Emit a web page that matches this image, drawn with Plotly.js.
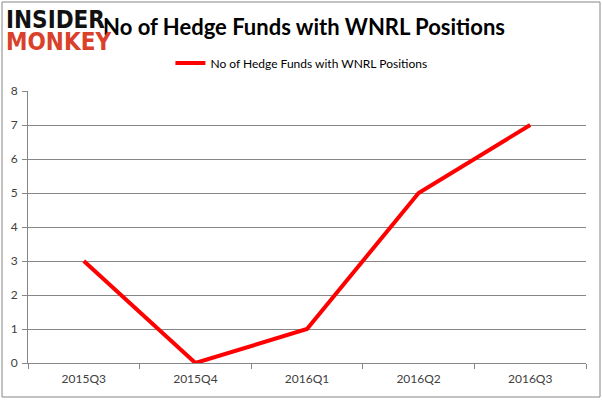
<!DOCTYPE html>
<html>
<head>
<meta charset="utf-8">
<script src="https://cdn.plot.ly/plotly-3.0.1.min.js"></script>
<style>html,body{margin:0;padding:0;background:#fff;}#chart{width:602px;height:400px;}</style>
</head>
<body>
<div id="chart"></div>
<script>
const quarters = ["2015Q3", "2015Q4", "2016Q1", "2016Q2", "2016Q3"];
const hedgeFunds = [3, 0, 1, 5, 7];
const yTicks = [0, 1, 2, 3, 4, 5, 6, 7, 8];
const seriesName = "No of Hedge Funds with WNRL Positions";
const chartTitle = "No of Hedge Funds with WNRL Positions";

const trace = {
  x: quarters,
  y: hedgeFunds,
  type: "scatter",
  mode: "lines",
  name: seriesName,
  line: {color: "#ff0000", width: 4}
};

const layout = {
  width: 602,
  height: 400,
  margin: {l: 28, r: 16, t: 91, b: 37},
  paper_bgcolor: "#ffffff",
  plot_bgcolor: "#ffffff",
  title: {
    text: chartTitle,
    font: {family: "Lato", size: 22, color: "#000000", weight: "bold"},
    x: 0.505, xanchor: "center", y: 0.932, yanchor: "middle"
  },
  showlegend: true,
  legend: {
    orientation: "h",
    x: 0.49, xanchor: "center",
    y: 1.103, yanchor: "middle",
    font: {family: "Lato", size: 12, color: "#000000"},
    bgcolor: "rgba(0,0,0,0)"
  },
  xaxis: {
    type: "category",
    range: [-0.5, 4.5],
    showgrid: false,
    showline: true,
    linecolor: "#868686",
    linewidth: 1,
    ticks: "outside",
    tickson: "boundaries",
    ticklen: 5,
    tickcolor: "#868686",
    ticklabelstandoff: 5,
    tickfont: {family: "Lato", size: 12, color: "#404040"},
    zeroline: false,
    fixedrange: true
  },
  yaxis: {
    range: [0, 8],
    tickvals: yTicks,
    showgrid: true,
    gridcolor: "#868686",
    gridwidth: 1,
    showline: true,
    linecolor: "#868686",
    ticks: "outside",
    ticklen: 5,
    tickcolor: "#868686",
    ticklabelstandoff: 2,
    tickfont: {family: "Lato", size: 12, color: "#404040"},
    zeroline: false,
    fixedrange: true
  },
  shapes: [
    {type: "rect", xref: "paper", yref: "paper",
     x0: -26/558, x1: 1 + 14/558, y0: -34/272, y1: 1 + 89/272,
     line: {color: "#868686", width: 1}, fillcolor: "rgba(0,0,0,0)", layer: "below"}
  ],
  annotations: [
    {text: "INSIDER", xref: "paper", yref: "paper", x: -24/558, y: 1 + (91-20)/272,
     xanchor: "left", yanchor: "middle", showarrow: false,
     font: {family: "DejaVu Sans Condensed", size: 24, color: "#111111", weight: "bold"}},
    {text: "MONKEY", xref: "paper", yref: "paper", x: -24/558, y: 1 + (91-42)/272,
     xanchor: "left", yanchor: "middle", showarrow: false,
     font: {family: "DejaVu Sans Condensed", size: 24, color: "#d9412b", weight: "bold"}}
  ]
};

Plotly.newPlot("chart", [trace], layout, {displayModeBar: false, staticPlot: true});
</script>
</body>
</html>
